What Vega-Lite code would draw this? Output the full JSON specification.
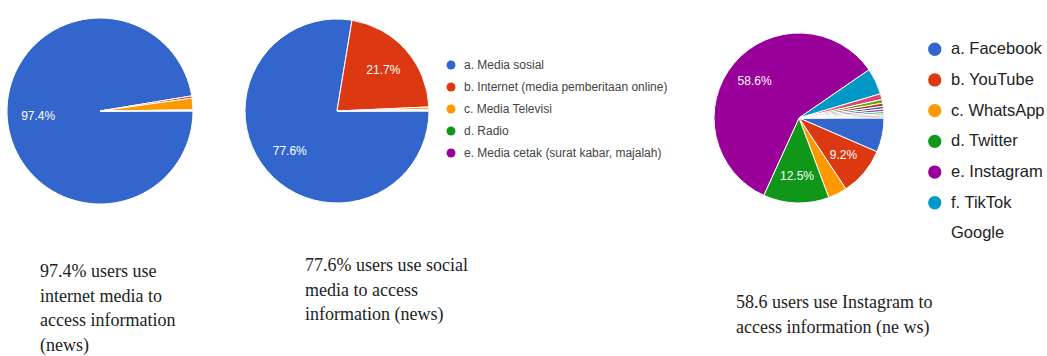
{
  "$schema": "https://vega.github.io/schema/vega-lite/v6.json",
  "background": "white",
  "padding": 0,
  "spacing": 40,
  "config": {"view": {"stroke": null}},
  "datasets": {
    "p1": [
      {"cat": "a. Media sosial", "v": 97.4},
      {"cat": "b. Internet (media pemberitaan online)", "v": 0.4},
      {"cat": "c. Media Televisi", "v": 2.0},
      {"cat": "d. Radio", "v": 0.1},
      {"cat": "e. Media cetak (surat kabar, majalah)", "v": 0.1}
    ],
    "p2": [
      {"cat": "a. Media sosial", "v": 77.6},
      {"cat": "b. Internet (media pemberitaan online)", "v": 21.7},
      {"cat": "c. Media Televisi", "v": 0.4},
      {"cat": "d. Radio", "v": 0.2},
      {"cat": "e. Media cetak (surat kabar, majalah)", "v": 0.1}
    ],
    "p3": [
      {"cat": "a. Facebook", "v": 6.5},
      {"cat": "b. YouTube", "v": 9.2},
      {"cat": "c. WhatsApp", "v": 3.6},
      {"cat": "d. Twitter", "v": 12.5},
      {"cat": "e. Instagram", "v": 58.6},
      {"cat": "f. TikTok", "v": 5.0},
      {"cat": "Google", "v": 1.1},
      {"cat": "Other 1", "v": 0.7},
      {"cat": "Other 2", "v": 0.6},
      {"cat": "Other 3", "v": 0.5},
      {"cat": "Other 4", "v": 0.5},
      {"cat": "Other 5", "v": 0.4},
      {"cat": "Other 6", "v": 0.3},
      {"cat": "Other 7", "v": 0.3},
      {"cat": "Other 8", "v": 0.2}
    ]
  },
  "resolve": {"scale": {"color": "independent", "theta": "independent"}, "legend": {"color": "independent"}},
  "hconcat": [
    {
      "width": 200,
      "height": 222,
      "data": {"name": "p1"},
      "transform": [
        {"window": [{"op": "row_number", "as": "k"}]},
        {"calculate": "datum.v >= 9 ? format(datum.v, '.1f') + '%' : ''", "as": "lbl"}
      ],
      "title": {
        "text": ["97.4% users use", "internet media to", "access information", "(news)"],
        "orient": "bottom", "anchor": "start", "frame": "group", "baseline": "top",
        "offset": 41, "dx": 40,
        "font": "Liberation Serif", "fontSize": 18, "fontWeight": "normal", "color": "#222222", "lineHeight": 24.5
      },
      "encoding": {
        "theta": {"field": "v", "type": "quantitative", "stack": true, "scale": {"range": [1.5707963, 7.8539816]}},
        "order": {"field": "k", "type": "quantitative"}
      },
      "layer": [
        {
          "mark": {"type": "arc", "outerRadius": 93, "stroke": "white", "strokeWidth": 1},
          "encoding": {
            "color": {
              "field": "cat", "type": "nominal",
              "scale": {
                "domain": ["a. Media sosial", "b. Internet (media pemberitaan online)", "c. Media Televisi", "d. Radio", "e. Media cetak (surat kabar, majalah)"],
                "range": ["#3366CC", "#DC3912", "#FF9900", "#109618", "#990099"]
              },
              "legend": null
            }
          }
        },
        {
          "mark": {"type": "text", "radius": 62, "fill": "white", "font": "Liberation Sans", "fontSize": 12},
          "encoding": {"detail": {"field": "cat"}, "text": {"field": "lbl"}}
        }
      ]
    },
    {
      "width": 194,
      "height": 222,
      "data": {"name": "p2"},
      "transform": [
        {"window": [{"op": "row_number", "as": "k"}]},
        {"calculate": "datum.v >= 9 ? format(datum.v, '.1f') + '%' : ''", "as": "lbl"}
      ],
      "title": {
        "text": ["77.6% users use social", "media to access", "information (news)"],
        "orient": "bottom", "anchor": "start", "frame": "group", "baseline": "top",
        "offset": 35, "dx": 65,
        "font": "Liberation Serif", "fontSize": 18, "fontWeight": "normal", "color": "#222222", "lineHeight": 24.5
      },
      "encoding": {
        "theta": {"field": "v", "type": "quantitative", "stack": true, "scale": {"range": [1.5707963, 7.8539816]}},
        "order": {"field": "k", "type": "quantitative"}
      },
      "layer": [
        {
          "mark": {"type": "arc", "outerRadius": 92, "stroke": "white", "strokeWidth": 1},
          "encoding": {
            "color": {
              "field": "cat", "type": "nominal",
              "scale": {
                "domain": ["a. Media sosial", "b. Internet (media pemberitaan online)", "c. Media Televisi", "d. Radio", "e. Media cetak (surat kabar, majalah)"],
                "range": ["#3366CC", "#DC3912", "#FF9900", "#109618", "#990099"]
              },
              "legend": {
                "orient": "none", "legendX": 205, "legendY": 59, "title": null, "padding": 0,
                "symbolType": "circle", "symbolSize": 80, "symbolStrokeWidth": 0,
                "labelFont": "Liberation Sans", "labelFontSize": 12, "labelColor": "#444444",
                "labelOffset": 7, "rowPadding": 10, "labelLimit": 400
              }
            }
          }
        },
        {
          "mark": {"type": "text", "radius": 62, "fill": "white", "font": "Liberation Sans", "fontSize": 12},
          "encoding": {"detail": {"field": "cat"}, "text": {"field": "lbl"}}
        }
      ]
    },
    {
      "width": 182,
      "height": 236,
      "data": {"name": "p3"},
      "transform": [
        {"window": [{"op": "row_number", "as": "k"}]},
        {"calculate": "datum.v >= 9 ? format(datum.v, '.1f') + '%' : ''", "as": "lbl"}
      ],
      "title": {
        "text": ["58.6 users use Instagram to", "access information (ne ws)"],
        "orient": "bottom", "anchor": "start", "frame": "group", "baseline": "top",
        "offset": 52, "dx": 28,
        "font": "Liberation Serif", "fontSize": 18, "fontWeight": "normal", "color": "#222222", "lineHeight": 24.5
      },
      "encoding": {
        "theta": {"field": "v", "type": "quantitative", "stack": true, "scale": {"range": [1.5707963, 7.8539816]}},
        "order": {"field": "k", "type": "quantitative"}
      },
      "layer": [
        {
          "mark": {"type": "arc", "outerRadius": 85, "stroke": "white", "strokeWidth": 1},
          "encoding": {
            "color": {
              "field": "cat", "type": "nominal",
              "scale": {
                "domain": ["a. Facebook", "b. YouTube", "c. WhatsApp", "d. Twitter", "e. Instagram", "f. TikTok", "Google", "Other 1", "Other 2", "Other 3", "Other 4", "Other 5", "Other 6", "Other 7", "Other 8"],
                "range": ["#3366CC", "#DC3912", "#FF9900", "#109618", "#990099", "#0099C6", "#DD4477", "#66AA00", "#B82E2E", "#316395", "#994499", "#22AA99", "#AAAA11", "#6633CC", "#E67300"]
              },
              "legend": {
                "orient": "none", "legendX": 218.5, "legendY": 41, "title": null, "padding": 0,
                "values": ["a. Facebook", "b. YouTube", "c. WhatsApp", "d. Twitter", "e. Instagram", "f. TikTok", "Google"],
                "symbolType": "circle", "symbolSize": 177, "symbolStrokeWidth": 0,
                "symbolOpacity": {"expr": "datum.value === 'Google' ? 0 : 1"},
                "labelFont": "Liberation Sans", "labelFontSize": 16.5, "labelColor": "#222222",
                "labelOffset": 8, "rowPadding": 13.7, "labelLimit": 400,
                "encode": {"symbols": {"opacity": {"value": {"expr": "datum.value === 'Google' ? 0 : 1"}}, "fillOpacity": {"value": {"expr": "datum.value === 'Google' ? 0 : 1"}}}}
              }
            }
          }
        },
        {
          "mark": {"type": "text", "radius": 58, "fill": "white", "font": "Liberation Sans", "fontSize": 12},
          "encoding": {"detail": {"field": "cat"}, "text": {"field": "lbl"}}
        }
      ]
    }
  ]
}
